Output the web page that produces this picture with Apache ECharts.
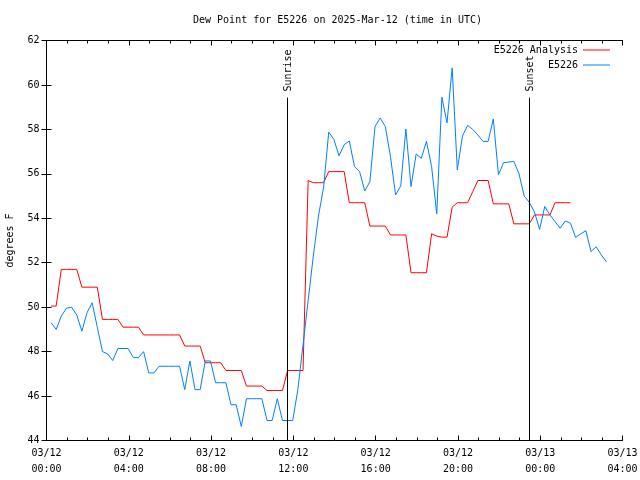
<!DOCTYPE html>
<html>
<head>
<meta charset="utf-8">
<script src="https://cdn.jsdelivr.net/npm/echarts@6/dist/echarts.min.js"></script>
<style>html,body{margin:0;padding:0;background:#fff}#c{width:640px;height:480px}</style>
</head>
<body>
<div id="c"></div>
<script>
// Sampling grid (hours since 03/12 00:00 UTC)
const sampleStart = 0.22;
const sampleStep = 0.25;

// E5226 observations (deg F), one per sample
const observed = [
  49.3, 49.0, 49.6, 49.95, 50.0, 49.65, 48.92, 49.75, 50.2, 49.1,
  48.0, 47.9, 47.6, 48.14, 48.14, 48.14, 47.73, 47.73, 48.0, 47.04,
  47.04, 47.34, 47.34, 47.34, 47.34, 47.34, 46.29, 47.58, 46.29, 46.29,
  47.58, 47.58, 46.6, 46.6, 46.6, 45.61, 45.61, 44.63, 45.88, 45.88,
  45.88, 45.88, 44.9, 44.9, 45.88, 44.9, 44.9, 44.9, 46.3, 48.3,
  50.3, 52.3, 54.1, 55.4, 57.88, 57.55, 56.81, 57.31, 57.48, 56.33,
  56.1, 55.23, 55.65, 58.13, 58.51, 58.13, 56.78, 55.05, 55.46, 58.02,
  55.43, 56.89, 56.7, 57.46, 56.33, 54.2, 59.45, 58.29, 60.77, 56.18,
  57.7, 58.18, 58.0, 57.75, 57.46, 57.46, 58.47, 55.96, 56.5, 56.53,
  56.56, 56.0, 55.0, 54.72, 54.28, 53.5, 54.53, 54.15, 53.85, 53.55,
  53.88, 53.78, 53.14, 53.3, 53.44, 52.5, 52.72, 52.35, 52.04
];

// E5226 Analysis (deg F), one per sample
const analysis = [
  50.05, 50.05, 51.7, 51.7, 51.7, 51.7, 50.9, 50.9, 50.9, 50.9,
  49.45, 49.45, 49.45, 49.45, 49.1, 49.1, 49.1, 49.1, 48.75, 48.75,
  48.75, 48.75, 48.75, 48.75, 48.75, 48.75, 48.25, 48.25, 48.25, 48.25,
  47.5, 47.5, 47.5, 47.5, 47.15, 47.15, 47.15, 47.15, 46.45, 46.45,
  46.45, 46.45, 46.25, 46.25, 46.25, 46.25, 47.15, 47.15, 47.15, 47.15,
  55.7, 55.6, 55.6, 55.6, 56.1, 56.1, 56.1, 56.1, 54.7, 54.7,
  54.7, 54.7, 53.65, 53.65, 53.65, 53.65, 53.25, 53.25, 53.25, 53.25,
  51.55, 51.55, 51.55, 51.55, 53.3, 53.2, 53.15, 53.15, 54.5, 54.7,
  54.7, 54.7, 55.2, 55.7, 55.7, 55.7, 54.65, 54.65, 54.65, 54.65,
  53.75, 53.75, 53.75, 53.75, 54.15, 54.15, 54.15, 54.15, 54.7, 54.7,
  54.7, 54.7
];

// Sun events (hours since 03/12 00:00 UTC)
const sunEvents = [
  { name: 'Sunrise', hour: 11.71 },
  { name: 'Sunset', hour: 23.47 }
];
const sunLineTop = 59.43;

// Axis settings
const xTickLabels = ['03/12\n00:00','03/12\n04:00','03/12\n08:00','03/12\n12:00','03/12\n16:00','03/12\n20:00','03/13\n00:00','03/13\n04:00'];
const yMin = 44, yMax = 62, yStep = 2;
const xMin = 0, xMax = 28, xStep = 4;

const FONT = 'DejaVu Sans Mono';
const toPts = arr => arr.map((v, k) => [sampleStart + sampleStep * k, v]);

const chart = echarts.init(document.getElementById('c'), null, { renderer: 'canvas' });

const axisCommon = {
  axisLine: { show: true, lineStyle: { color: '#000', width: 1 } },
  splitLine: { show: false }
};

chart.setOption({
  animation: false,
  backgroundColor: '#fff',
  title: {
    text: 'Dew Point for E5226 on 2025-Mar-12 (time in UTC)',
    left: 188, top: 10,
    textStyle: { fontFamily: FONT, fontSize: 10, fontWeight: 'normal', color: '#000' }
  },
  legend: [
    { data: [{ name: 'E5226 Analysis', icon: 'rect' }], right: 30, top: 45, padding: 0, align: 'right',
      itemWidth: 27, itemHeight: 1, itemGap: 0,
      textStyle: { fontFamily: FONT, fontSize: 10, color: '#000' } },
    { data: [{ name: 'E5226', icon: 'rect' }], right: 30, top: 60, padding: 0, align: 'right',
      itemWidth: 27, itemHeight: 1, itemGap: 0,
      textStyle: { fontFamily: FONT, fontSize: 10, color: '#000' } }
  ],
  grid: { left: 46.5, right: 17.5, top: 40.5, bottom: 39.5, containLabel: false, outerBoundsMode: 'none' },
  xAxis: [
    Object.assign({}, axisCommon, {
      type: 'value', min: xMin, max: xMax, interval: xStep, position: 'bottom',
      axisTick: { show: true, inside: true, length: 5, lineStyle: { color: '#000' } },
      minorTick: { show: true, splitNumber: 4, length: 3, lineStyle: { color: '#000' } },
      axisLabel: {
        fontFamily: FONT, fontSize: 10, color: '#000', margin: 5, lineHeight: 16,
        formatter: v => xTickLabels[Math.round((v - xMin) / xStep)] || ''
      }
    }),
    Object.assign({}, axisCommon, {
      type: 'value', min: xMin, max: xMax, interval: xStep, position: 'top',
      axisTick: { show: true, inside: true, length: 5, lineStyle: { color: '#000' } },
      minorTick: { show: true, splitNumber: 4, length: 3, lineStyle: { color: '#000' } },
      axisLabel: { show: false }
    })
  ],
  yAxis: [
    Object.assign({}, axisCommon, {
      type: 'value', min: yMin, max: yMax, interval: yStep, position: 'left',
      name: 'degrees F', nameLocation: 'middle', nameGap: 31,
      nameTextStyle: { fontFamily: FONT, fontSize: 10, color: '#000' },
      axisTick: { show: true, inside: true, length: 5, lineStyle: { color: '#000' } },
      axisLabel: { fontFamily: FONT, fontSize: 10, color: '#000', margin: 7 }
    }),
    Object.assign({}, axisCommon, {
      type: 'value', min: yMin, max: yMax, interval: yStep, position: 'right',
      axisTick: { show: true, inside: true, length: 5, lineStyle: { color: '#000' } },
      axisLabel: { show: false }
    })
  ],
  series: [
    {
      name: 'E5226 Analysis', type: 'line', data: toPts(analysis),
      symbol: 'none', lineStyle: { color: '#ff0000', width: 1 }, itemStyle: { color: '#ff0000' },
      markLine: {
        silent: true, symbol: 'none', label: { show: false },
        lineStyle: { color: '#000', width: 1, type: 'solid' },
        data: sunEvents.map(e => [{ coord: [e.hour, yMin] }, { coord: [e.hour, sunLineTop] }])
      }
    },
    {
      name: 'E5226', type: 'line', data: toPts(observed),
      symbol: 'none', lineStyle: { color: '#0080ff', width: 1 }, itemStyle: { color: '#0080ff' }
    }
  ]
});

// Rotated sun event labels positioned through the chart's own scales
const graphics = sunEvents.map(e => {
  const p = chart.convertToPixel({ gridIndex: 0 }, [e.hour, sunLineTop]);
  return {
    type: 'text', x: p[0] + 1, y: p[1] - 6, rotation: Math.PI / 2,
    style: { text: e.name, fontFamily: FONT, fontSize: 10, fill: '#000', align: 'left', verticalAlign: 'middle' }
  };
});
chart.setOption({ graphic: graphics });
</script>
</body>
</html>
